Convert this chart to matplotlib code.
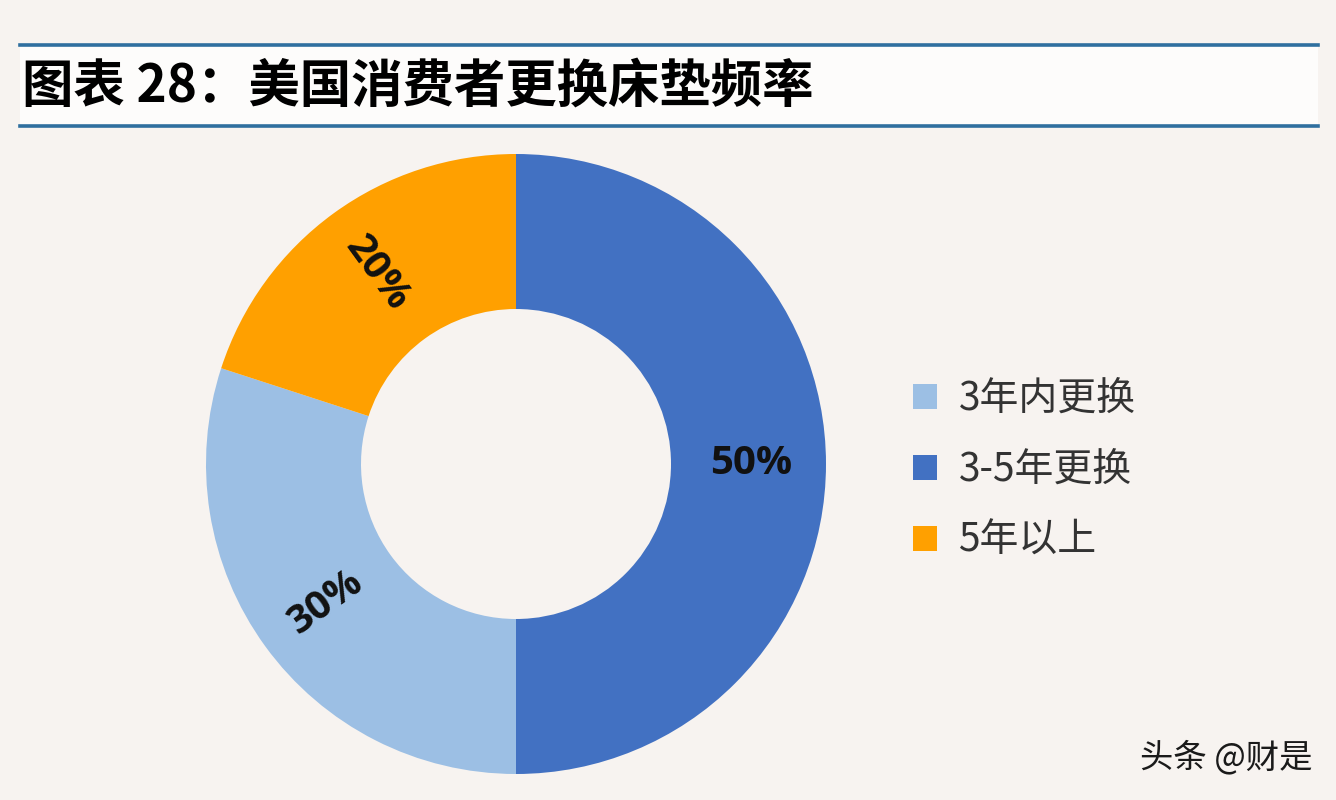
import matplotlib
matplotlib.use("Agg")
import numpy as np
import matplotlib.pyplot as plt
from matplotlib.patches import Rectangle

plt.rcParams['font.family'] = ['Noto Sans CJK SC', 'DejaVu Sans']

# data
labels = ["3-5年更换", "3年内更换", "5年以上"]
shares = [50, 30, 20]
colors = ["#4271c2", "#9cbfe4", "#ffa000"]
legend_order = [1, 0, 2]          # legend lists 3年内 first
title = "图表 28：美国消费者更换床垫频率"
watermark = "头条 @财是"

W, H = 1336, 800
fig = plt.figure(figsize=(W / 100, H / 100), dpi=100)
fig.patch.set_facecolor("#f7f3f0")

# title band
fig.add_artist(Rectangle((20 / W, 1 - 126 / H), 1298 / W, 81 / H,
                         transform=fig.transFigure, facecolor="#fdfcfb",
                         edgecolor="none", zorder=0))
for y in (45, 126):
    fig.add_artist(plt.Line2D([20 / W, 1318 / W], [1 - y / H, 1 - y / H],
                              transform=fig.transFigure, color="#2f6f9f",
                              lw=2.6))
fig.text(22 / W, 1 - 86 / H, title, fontsize=37, fontweight="black",
         fontstyle="italic", va="center", ha="left", color="#000000")

# donut
cx, cy, r = 516, 464, 310
ax = fig.add_axes([(cx - r) / W, 1 - (cy + r) / H, 2 * r / W, 2 * r / H])
ax.set_facecolor("none")
wedges, _ = ax.pie(shares, colors=colors, startangle=90, counterclock=False,
                   radius=1.0, wedgeprops=dict(width=0.5, edgecolor="none"))
ax.set_xlim(-1, 1)
ax.set_ylim(-1, 1)
ax.set_aspect("equal")
ax.axis("off")

for w, s in zip(wedges, shares):
    mid = np.deg2rad((w.theta1 + w.theta2) / 2)
    rot = np.rad2deg(mid)
    if np.cos(mid) < 0:
        rot -= 180
    ax.text(0.76 * np.cos(mid), 0.76 * np.sin(mid), f"{s}%",
            ha="center", va="center", rotation=rot, rotation_mode="anchor",
            fontsize=29, fontweight="bold", family=["Open Sans", "DejaVu Sans"],
            color="#111111")

leg = fig.legend([wedges[i] for i in legend_order],
                 [labels[i] for i in legend_order],
                 loc="center left", bbox_to_anchor=(878 / W, 1 - 470 / H),
                 frameon=False, fontsize=28, handlelength=0.62,
                 handleheight=0.62, handletextpad=0.55, labelspacing=0.8)
for t in leg.get_texts():
    t.set_color("#333333")

fig.text(1312 / W, 1 - 758 / H, watermark, fontsize=24, ha="right",
         va="center", color="#1a1a1a")

fig.savefig("out.png", dpi=100, facecolor=fig.get_facecolor())
